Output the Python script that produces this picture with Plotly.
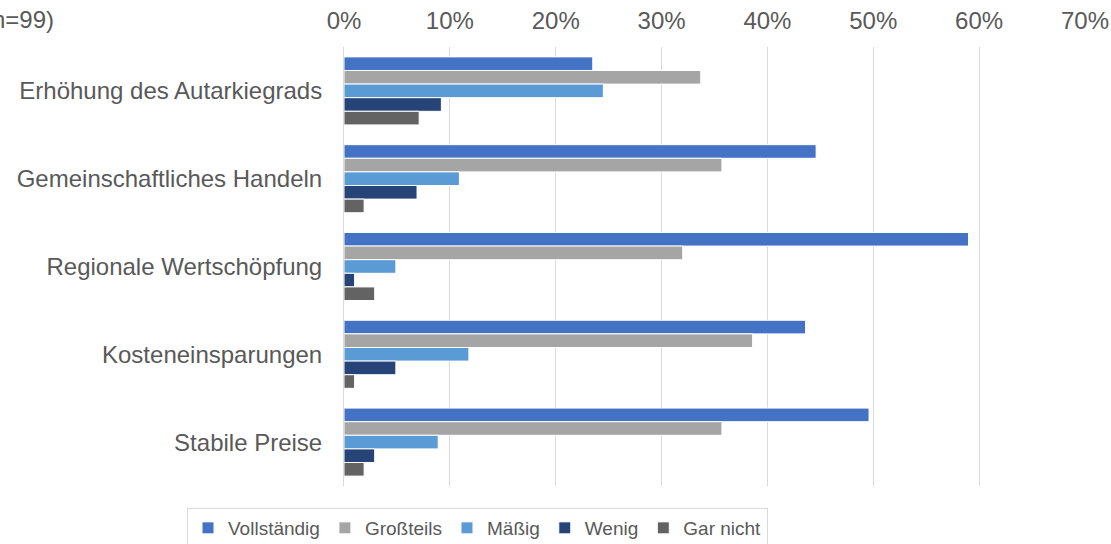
import plotly.graph_objects as go

categories = ["Erhöhung des Autarkiegrads", "Gemeinschaftliches Handeln",
              "Regionale Wertschöpfung", "Kosteneinsparungen", "Stabile Preise"]
series_names = ["Vollständig", "Großteils", "Mäßig", "Wenig", "Gar nicht"]
vollstaendig = [0.235, 0.446, 0.590, 0.436, 0.496]
grossteils = [0.337, 0.357, 0.320, 0.386, 0.357]
maessig = [0.245, 0.109, 0.049, 0.118, 0.089]
wenig = [0.092, 0.069, 0.010, 0.049, 0.029]
gar_nicht = [0.071, 0.019, 0.029, 0.010, 0.019]
colors = ["#4472C4", "#A5A5A5", "#5B9BD5", "#264478", "#636363"]
tick_vals = [0, 0.1, 0.2, 0.3, 0.4, 0.5, 0.6, 0.7]
tick_text = ["0%", "10%", "20%", "30%", "40%", "50%", "60%", "70%"]
note_text = "n=99)"

W, H = 1111, 544
L, R, T, B = 344, 26, 47, 58
pw, ph = W - L - R, H - T - B

fig = go.Figure()
for name, vals, col in zip(series_names, [vollstaendig, grossteils, maessig, wenig, gar_nicht], colors):
    fig.add_trace(go.Bar(
        y=categories, x=vals, name=name, orientation="h",
        marker=dict(color=col, line=dict(color="white", width=1)),
    ))

font_main = "Liberation Sans, Arial, sans-serif"
fig.update_layout(
    width=W, height=H,
    margin=dict(l=L, r=R, t=T, b=B, autoexpand=False),
    paper_bgcolor="white", plot_bgcolor="white",
    barmode="group", bargap=0.225, bargroupgap=0,
    font=dict(family=font_main, size=24, color="#595959"),
    xaxis=dict(range=[0, 0.7], side="top", tickvals=tick_vals, ticktext=tick_text,
               showgrid=True, gridcolor="#D9D9D9", gridwidth=1, zeroline=False,
               showline=False, ticks="", ticklabelstandoff=12,
               tickfont=dict(size=24, color="#595959")),
    yaxis=dict(autorange="reversed", showgrid=False, zeroline=False,
               showline=True, linecolor="#D9D9D9", linewidth=1,
               ticks="", ticklabelstandoff=16,
               tickfont=dict(size=24, color="#595959")),
    legend=dict(orientation="h", traceorder="normal",
                x=(477.5 - L) / pw, xanchor="center",
                y=-(508 - (T + ph)) / ph, yanchor="top",
                bordercolor="#D9D9D9", borderwidth=1,
                font=dict(family=font_main, size=19, color="#595959"),
                itemwidth=30, tracegroupgap=0),
    showlegend=True,
)
fig.add_annotation(text=note_text, xref="paper", yref="paper",
                   x=(56 - L) / pw, xanchor="right", y=(T + ph - 20) / ph, yanchor="middle",
                   showarrow=False, font=dict(size=24, color="#595959"))

fig.write_html("out.html", config={"displayModeBar": False},
               post_script="document.body.style.margin='0';document.body.style.overflow='hidden';")
